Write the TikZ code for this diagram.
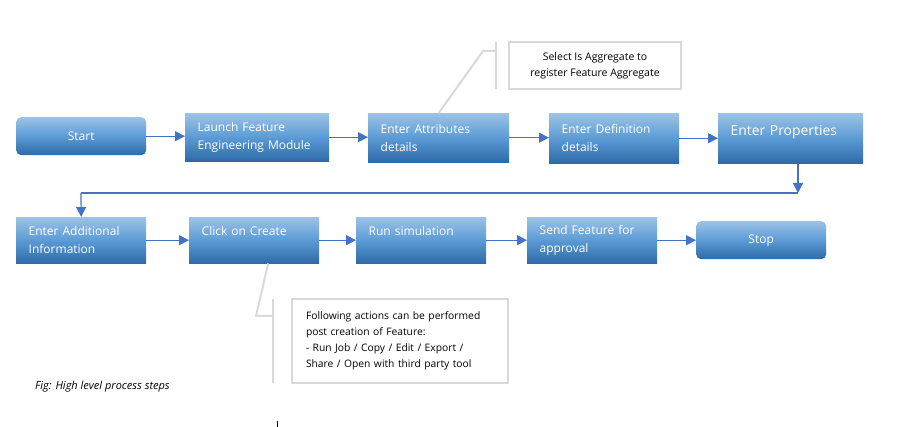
\documentclass[tikz,border=0pt]{standalone}
\usepackage{fontspec}
\setmainfont{Open Sans}
\usetikzlibrary{arrows.meta}
\definecolor{boxtop}{HTML}{9DC3E6}
\definecolor{boxmid}{HTML}{5B9BD5}
\definecolor{boxbot}{HTML}{2E6AA8}
\definecolor{arrblue}{HTML}{4472C4}
\definecolor{callgrey}{HTML}{D9D9D9}
\begin{document}
\begin{tikzpicture}[x=1pt,y=-1pt,
  stepbox/.style={draw=none, top color=boxtop, bottom color=boxbot, middle color=boxmid,
    text=white, font=\fontsize{12}{18}\selectfont, align=left,
    inner xsep=12.5pt, inner ysep=0pt, anchor=north west},
  endbox/.style={stepbox, rounded corners=5pt, align=center},
  callbox/.style={draw=callgrey, line width=2pt, text=black,
    font=\fontsize{10.3}{16}\selectfont, inner xsep=14pt, inner ysep=0pt},
  lead/.style={draw=callgrey, line width=2pt},
  arr/.style={draw=arrblue, line width=1.2pt, -{Triangle[length=10pt,width=10pt]}},
  arrline/.style={draw=arrblue, line width=1.2pt}]
\useasboundingbox (0,0) rectangle (906,427);
% row 1
\node[endbox, text width=105pt, minimum height=38pt] (start) at (16,117) {Start};
\node[stepbox, text width=119pt, minimum height=48pt] (launch) at (185,113) {Launch Feature\\Engineering Module};
\node[stepbox, text width=116pt, minimum height=49pt] (attr) at (368,113) {Enter Attributes\\details};
\node[stepbox, text width=105pt, minimum height=50pt] (defn) at (549,113) {Enter Definition\\details};
\node[stepbox, text width=120pt, minimum height=50pt, font=\fontsize{13.9}{16}\selectfont] (props) at (718,113) {Enter Properties\\~};
% row 2
\node[stepbox, text width=105pt, minimum height=46pt] (addl) at (16,217) {Enter Additional\\Information};
\node[stepbox, text width=105pt, minimum height=46pt] (create) at (189,217) {Click on Create\\~};
\node[stepbox, text width=105pt, minimum height=46pt] (run) at (356,217) {Run simulation\\~};
\node[stepbox, text width=105pt, minimum height=46pt] (send) at (527,217) {Send Feature for\\approval};
\node[endbox, text width=105pt, minimum height=38pt] (stop) at (696,221) {Stop};
% arrows
\draw[arr] (start.east) -- (start.east -| launch.west);
\draw[arr] (launch.east) -- (launch.east -| attr.west);
\draw[arr] (attr.east) -- (attr.east -| defn.west);
\draw[arr] (defn.east) -- (defn.east -| props.west);
\coordinate (b1) at (798,193);
\coordinate (b2) at (81,193);
\draw[arr] (props.south -| b1) -- (b1);
\draw[arrline] (b1) -- (b2);
\draw[arr] (b2) -- (addl.north);
\draw[arr] (addl.east) -- (addl.east -| create.west);
\draw[arr] (create.east) -- (create.east -| run.west);
\draw[arr] (run.east) -- (run.east -| send.west);
\draw[arr] (send.east) -- (send.east -| stop.west);
% callout 1
\node[callbox, minimum width=172pt, minimum height=47pt, align=center, font=\fontsize{10.5}{16}\selectfont] (c1) at (595,65.5) {Select Is Aggregate to\\register Feature Aggregate};
\coordinate (c1t) at (496,42);
\coordinate (c1b) at (496,89);
\coordinate (c1j) at (496,51);
\coordinate (c1k) at (483,51);
\draw[lead] (c1t) -- (c1b);
\draw[lead] (c1j) -- (c1k) -- (attr.north);
% callout 2
\node[callbox, text width=188pt, minimum height=84pt, align=left] (c2) at (400,341) {Following actions can be performed\\post creation of Feature:\\- Run Job / Copy / Edit / Export /\\Share / Open with third party tool};
\coordinate (c2t) at (273,299);
\coordinate (c2b) at (273,383);
\coordinate (c2j) at (273,316);
\coordinate (c2k) at (256,316);
\draw[lead] (c2t) -- (c2b);
\draw[lead] (c2j) -- (c2k) -- ([xshift=14pt]create.south);
% caption
\node[anchor=west, inner sep=0pt, font=\itshape\fontsize{11}{12}\selectfont] (cap) at (35,387) {Fig: High level process steps};
\draw[black, line width=0.8pt] (277,421) -- (277,427);
\end{tikzpicture}
\end{document}
